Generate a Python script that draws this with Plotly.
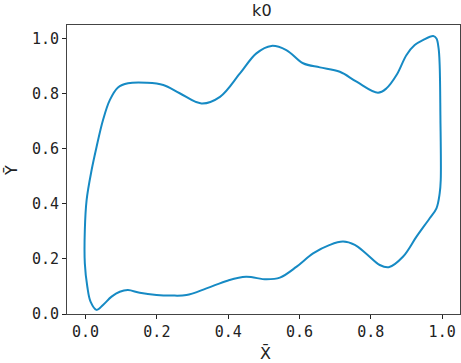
import plotly.graph_objects as go

# Closed loop traced clockwise from the left side
x_vals = [0.003, 0.017, 0.031, 0.049, 0.068, 0.091, 0.119, 0.171, 0.218, 0.264,
          0.325, 0.377, 0.433, 0.479, 0.521, 0.563, 0.610, 0.657, 0.713, 0.760,
          0.820, 0.844, 0.872, 0.900, 0.923, 0.946, 0.975, 0.984, 0.990, 0.993,
          0.995, 0.996, 0.993, 0.984, 0.965, 0.928, 0.890, 0.850, 0.825, 0.788,
          0.755, 0.722, 0.685, 0.638, 0.592, 0.545, 0.507, 0.450, 0.400, 0.339,
          0.283, 0.240, 0.199, 0.152, 0.119, 0.096, 0.073, 0.049, 0.031, 0.014,
          0.005, -0.002, -0.002, 0.003]
y_vals = [0.414, 0.523, 0.608, 0.705, 0.777, 0.823, 0.838, 0.840, 0.832, 0.802,
          0.765, 0.789, 0.874, 0.947, 0.974, 0.959, 0.911, 0.896, 0.880, 0.844,
          0.804, 0.820, 0.868, 0.941, 0.977, 0.995, 1.010, 1.001, 0.965, 0.904,
          0.723, 0.487, 0.438, 0.384, 0.348, 0.281, 0.208, 0.170, 0.178, 0.218,
          0.251, 0.263, 0.251, 0.220, 0.172, 0.132, 0.126, 0.135, 0.122, 0.093,
          0.069, 0.067, 0.069, 0.077, 0.087, 0.081, 0.063, 0.033, 0.015, 0.045,
          0.099, 0.184, 0.305, 0.414]

x_ticks = [0.0, 0.2, 0.4, 0.6, 0.8, 1.0]
x_tick_text = ["0.0", "0.2", "0.4", "0.6", "0.8", "1.0"]
y_ticks = [0.0, 0.2, 0.4, 0.6, 0.8, 1.0]
y_tick_text = ["0.0", "0.2", "0.4", "0.6", "0.8", "1.0"]

fig = go.Figure()
fig.add_trace(go.Scatter(
    x=x_vals, y=y_vals, mode="lines",
    line=dict(color="#168ac4", width=2, shape="spline", smoothing=1.0),
    showlegend=False, hoverinfo="skip",
))

axis_common = dict(
    showgrid=False, zeroline=False, showline=True, mirror=True,
    linecolor="#444444", linewidth=1, ticks="outside", ticklen=4,
    tickcolor="#222222", tickwidth=1, automargin=False,
    tickfont=dict(family="DejaVu Sans Mono", size=15, color="#222222"),
)

fig.update_layout(
    width=461, height=363,
    margin=dict(l=67, r=1, t=25, b=49),
    paper_bgcolor="white", plot_bgcolor="white",
    title=dict(text="k0", x=0.568, xanchor="center", y=0.97, yanchor="middle",
               font=dict(family="DejaVu Sans", size=16, color="#222222")),
    xaxis=dict(range=[-0.052, 1.05], tickvals=x_ticks, ticktext=x_tick_text,
               **axis_common),
    yaxis=dict(range=[0.0, 1.05], tickvals=y_ticks, ticktext=y_tick_text,
               **axis_common),
    annotations=[
        dict(text="X\u0304", xref="paper", yref="paper", x=0.504, y=-0.137,
             xanchor="center", yanchor="middle", showarrow=False,
             font=dict(family="DejaVu Sans", size=16, color="#222222")),
        dict(text="Y\u0304", xref="paper", yref="paper", x=-0.143, y=0.498,
             xanchor="center", yanchor="middle", showarrow=False, textangle=-90,
             font=dict(family="DejaVu Sans", size=16, color="#222222")),
    ],
)

fig.write_html(
    "out.html",
    config={"displayModeBar": False},
    post_script="document.body.style.margin='0';document.body.style.padding='0';",
)
